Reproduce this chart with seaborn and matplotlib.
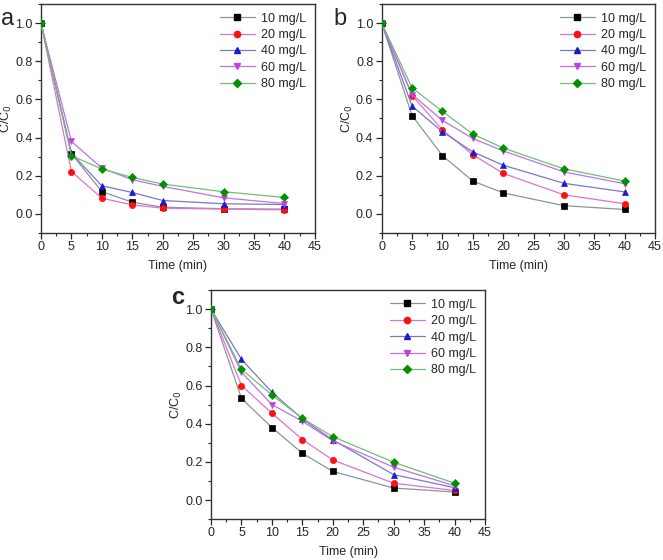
import numpy as np
import pandas as pd
import matplotlib
matplotlib.use("Agg")
import matplotlib.pyplot as plt
import seaborn as sns
from matplotlib.ticker import MultipleLocator
from matplotlib.lines import Line2D

# Data
time = [0, 5, 10, 15, 20, 30, 40]
labels = ["10 mg/L", "20 mg/L", "40 mg/L", "60 mg/L", "80 mg/L"]

a_10 = [1.0, 0.315, 0.117, 0.061, 0.035, 0.027, 0.025]
a_20 = [1.0, 0.222, 0.082, 0.047, 0.030, 0.025, 0.021]
a_40 = [1.0, 0.318, 0.147, 0.112, 0.070, 0.053, 0.049]
a_60 = [1.0, 0.380, 0.240, 0.179, 0.144, 0.084, 0.054]
a_80 = [1.0, 0.305, 0.235, 0.191, 0.156, 0.116, 0.086]

b_10 = [1.0, 0.515, 0.305, 0.172, 0.110, 0.043, 0.023]
b_20 = [1.0, 0.620, 0.440, 0.310, 0.212, 0.100, 0.053]
b_40 = [1.0, 0.565, 0.430, 0.325, 0.255, 0.160, 0.115]
b_60 = [1.0, 0.625, 0.490, 0.395, 0.330, 0.220, 0.158]
b_80 = [1.0, 0.660, 0.537, 0.418, 0.345, 0.236, 0.172]

c_10 = [1.0, 0.533, 0.380, 0.245, 0.150, 0.063, 0.042]
c_20 = [1.0, 0.600, 0.455, 0.317, 0.210, 0.088, 0.050]
c_40 = [1.0, 0.737, 0.565, 0.425, 0.315, 0.133, 0.065]
c_60 = [1.0, 0.670, 0.500, 0.413, 0.310, 0.172, 0.075]
c_80 = [1.0, 0.685, 0.550, 0.428, 0.332, 0.198, 0.088]

panels = {
    "a": [a_10, a_20, a_40, a_60, a_80],
    "b": [b_10, b_20, b_40, b_60, b_80],
    "c": [c_10, c_20, c_40, c_60, c_80],
}

marker_colors = ["#000000", "#ff1010", "#1a1ad0", "#c040e0", "#009000"]
line_colors = ["#8a9696", "#e070d8", "#7878c8", "#c070e8", "#70c070"]
markers = ["s", "o", "^", "v", "D"]
msizes = [4, 4.5, 4.5, 4.5, 4]

sns.set_style("ticks")
plt.rcParams["font.family"] = ["Liberation Sans", "DejaVu Sans"]
plt.rcParams["font.size"] = 9

fig = plt.figure(figsize=(6.63, 5.6), dpi=100)
ax_a = fig.add_axes([0.0618, 0.584, 0.4132, 0.409])
ax_b = fig.add_axes([0.5757, 0.584, 0.4123, 0.409])
ax_c = fig.add_axes([0.3183, 0.073, 0.4132, 0.409])

for key, ax in zip(["a", "b", "c"], [ax_a, ax_b, ax_c]):
    series = panels[key]
    for i, vals in enumerate(series):
        df = pd.DataFrame({"Time": time, "C": vals})
        sns.lineplot(data=df, x="Time", y="C", ax=ax, color=line_colors[i],
                     linewidth=0.9, marker=markers[i], markersize=msizes[i],
                     markerfacecolor=marker_colors[i], markeredgecolor=marker_colors[i],
                     markeredgewidth=0.5, zorder=3 + i)
    ax.set_xlim(0, 45)
    ax.set_ylim(-0.1, 1.1)
    ax.xaxis.set_major_locator(MultipleLocator(5))
    ax.xaxis.set_minor_locator(MultipleLocator(2.5))
    ax.set_yticks([0.0, 0.2, 0.4, 0.6, 0.8, 1.0])
    ax.yaxis.set_minor_locator(MultipleLocator(0.1))
    ax.tick_params(which="major", direction="out", length=4, width=0.9, labelsize=9, pad=2)
    ax.tick_params(which="minor", direction="out", length=2.5, width=0.8)
    for sp in ax.spines.values():
        sp.set_linewidth(1.0)
        sp.set_color("#333333")
    ax.set_xlabel("Time (min)", fontsize=9, labelpad=5)
    ax.set_ylabel("C/C$_0$", fontsize=9, labelpad=1)

    handles = [Line2D([0], [0], color=line_colors[i], lw=0.9, marker=markers[i],
                      markersize=msizes[i], markerfacecolor=marker_colors[i],
                      markeredgecolor=marker_colors[i]) for i in range(5)]
    ax.legend(handles, labels, loc="upper right", frameon=False, fontsize=9,
              handlelength=2.8, handletextpad=0.5, labelspacing=0.35,
              borderaxespad=0.3)

fig.text(0.002, 0.985, "a", fontsize=17, va="top", ha="left")
fig.text(0.503, 0.985, "b", fontsize=17, va="top", ha="left")
fig.text(0.258, 0.489, "c", fontsize=17, va="top", ha="left", fontweight="bold")

fig.savefig("out.png", dpi=100)
